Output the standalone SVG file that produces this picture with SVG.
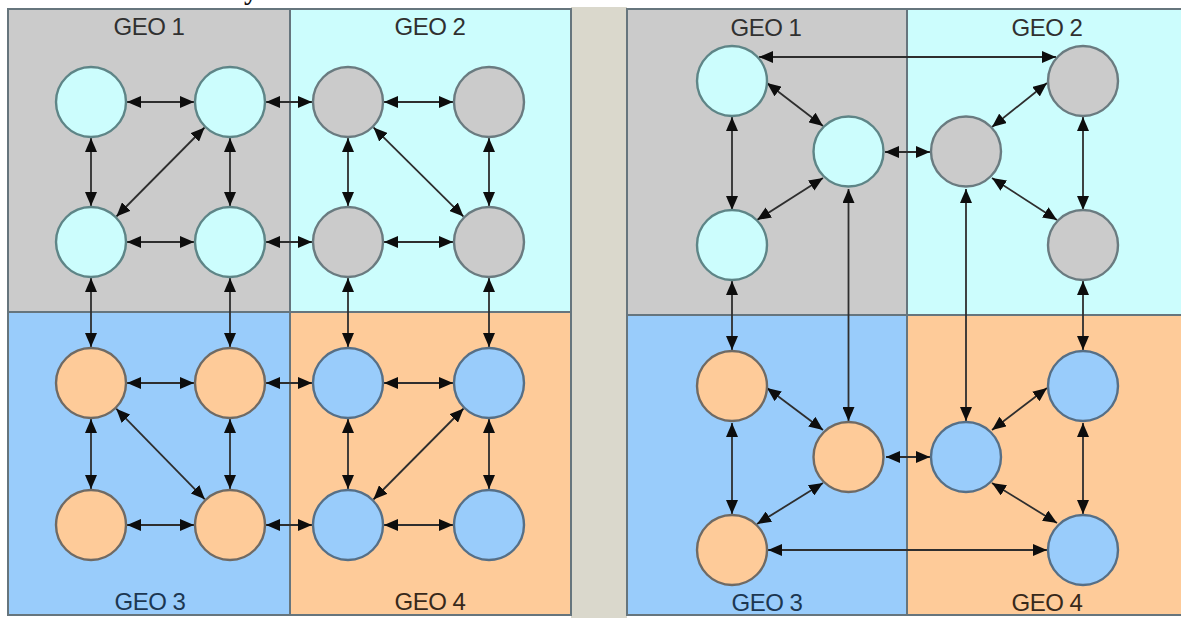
<svg xmlns="http://www.w3.org/2000/svg" width="1181" height="618" viewBox="0 0 1181 618">
<style>
.pan{stroke:#66757d;stroke-width:2}
.g{fill:#cbcbcb}.c{fill:#ccfdfd}.b{fill:#99ccfb}.o{fill:#fecb99}
.n{stroke-width:2.4}
.nc{fill:#ccfdfd;stroke:#5e8587}
.ng{fill:#cbcbcb;stroke:#6a7b80}
.no{fill:#fecb99;stroke:#6f6a64}
.nb{fill:#99ccfb;stroke:#566f86}
.lbl{font-family:"Liberation Sans",Arial,sans-serif;font-size:24px;text-anchor:middle;letter-spacing:-0.5px}
.t1{fill:#303030}.t3{fill:#1c3752}.t4{fill:#38291b}
#edges line{stroke:#2e2e2e;stroke-width:1.8;marker-start:url(#ah);marker-end:url(#ah)}
</style>
<defs>
<marker id="ah" markerUnits="userSpaceOnUse" markerWidth="14" markerHeight="12" refX="14" refY="6" orient="auto-start-reverse">
<path d="M0,0 L14,6 L0,12 z" fill="#0d0d0d"/>
</marker>
</defs>
<rect x="0" y="0" width="1181" height="618" fill="#ffffff"/>
<rect x="571" y="7" width="56" height="611" fill="#dad8cc"/>
<text x="244" y="-1" font-family="Liberation Serif,serif" font-size="28" font-weight="bold" fill="#111">y</text>

<g id="left-panel">
<rect class="pan g" x="8" y="9" width="282" height="303"/>
<rect class="pan c" x="290" y="9" width="281" height="303"/>
<rect class="pan b" x="8" y="312" width="282" height="303"/>
<rect class="pan o" x="290" y="312" width="281" height="303"/>
<text class="lbl t1" x="149" y="35">GEO 1</text>
<text class="lbl t1" x="430" y="35">GEO 2</text>
<text class="lbl t3" x="150" y="610">GEO 3</text>
<text class="lbl t4" x="430" y="610">GEO 4</text>
</g>
<g id="right-panel">
<rect class="pan g" x="627" y="9" width="280" height="306"/>
<rect class="pan c" x="907" y="9" width="280" height="306"/>
<rect class="pan b" x="627" y="315" width="280" height="300"/>
<rect class="pan o" x="907" y="315" width="280" height="300"/>
<text class="lbl t1" x="766" y="36">GEO 1</text>
<text class="lbl t1" x="1047" y="36">GEO 2</text>
<text class="lbl t3" x="767" y="611">GEO 3</text>
<text class="lbl t4" x="1047" y="611">GEO 4</text>
</g>

<g id="edges">
<line x1="127" y1="102" x2="194" y2="102"/>
<line x1="266" y1="102" x2="312" y2="102"/>
<line x1="384" y1="102" x2="453" y2="102"/>
<line x1="127" y1="242" x2="194" y2="242"/>
<line x1="266" y1="242" x2="312" y2="242"/>
<line x1="384" y1="242" x2="453" y2="242"/>
<line x1="127" y1="383" x2="194" y2="383"/>
<line x1="266" y1="383" x2="312" y2="383"/>
<line x1="384" y1="383" x2="453" y2="383"/>
<line x1="127" y1="525" x2="194" y2="525"/>
<line x1="266" y1="525" x2="312" y2="525"/>
<line x1="384" y1="525" x2="453" y2="525"/>
<line x1="91" y1="138" x2="91" y2="206"/>
<line x1="91" y1="278" x2="91" y2="347"/>
<line x1="91" y1="419" x2="91" y2="489"/>
<line x1="230" y1="138" x2="230" y2="206"/>
<line x1="230" y1="278" x2="230" y2="347"/>
<line x1="230" y1="419" x2="230" y2="489"/>
<line x1="348" y1="138" x2="348" y2="206"/>
<line x1="348" y1="278" x2="348" y2="347"/>
<line x1="348" y1="419" x2="348" y2="489"/>
<line x1="489" y1="138" x2="489" y2="206"/>
<line x1="489" y1="278" x2="489" y2="347"/>
<line x1="489" y1="419" x2="489" y2="489"/>
<line x1="204.6" y1="127.5" x2="116.4" y2="216.5"/>
<line x1="373.5" y1="127.4" x2="463.5" y2="216.6"/>
<line x1="116.2" y1="408.7" x2="204.8" y2="499.3"/>
<line x1="463.6" y1="408.5" x2="373.4" y2="499.5"/>

<line x1="759" y1="57" x2="1056" y2="57"/>
<line x1="767" y1="83" x2="823" y2="126"/>
<line x1="732" y1="117" x2="732" y2="210"/>
<line x1="823" y1="178" x2="757" y2="220"/>
<line x1="885" y1="152" x2="930" y2="152"/>
<line x1="848.5" y1="189" x2="848.5" y2="421"/>
<line x1="1047" y1="83" x2="992" y2="127"/>
<line x1="1083" y1="117" x2="1083" y2="210"/>
<line x1="992" y1="178" x2="1057" y2="220"/>
<line x1="966" y1="189" x2="966" y2="421"/>
<line x1="732" y1="281" x2="732" y2="350"/>
<line x1="1083" y1="281" x2="1083" y2="350"/>
<line x1="767" y1="388" x2="823" y2="430"/>
<line x1="732" y1="423" x2="732" y2="514"/>
<line x1="823" y1="483" x2="757" y2="524"/>
<line x1="886" y1="457" x2="930" y2="457"/>
<line x1="768" y1="550" x2="1047" y2="550"/>
<line x1="1047" y1="388" x2="992" y2="430"/>
<line x1="1083" y1="423" x2="1083" y2="514"/>
<line x1="992" y1="483" x2="1057" y2="523"/>
</g>

<g id="L-geo1-n1"><circle class="n nc" cx="91" cy="102" r="35"/></g>
<g id="L-geo1-n2"><circle class="n nc" cx="230" cy="102" r="35"/></g>
<g id="L-geo1-n3"><circle class="n nc" cx="91" cy="242" r="35"/></g>
<g id="L-geo1-n4"><circle class="n nc" cx="230" cy="242" r="35"/></g>
<g id="L-geo2-n1"><circle class="n ng" cx="348" cy="102" r="35"/></g>
<g id="L-geo2-n2"><circle class="n ng" cx="489" cy="102" r="35"/></g>
<g id="L-geo2-n3"><circle class="n ng" cx="348" cy="242" r="35"/></g>
<g id="L-geo2-n4"><circle class="n ng" cx="489" cy="242" r="35"/></g>
<g id="L-geo3-n1"><circle class="n no" cx="91" cy="383" r="35"/></g>
<g id="L-geo3-n2"><circle class="n no" cx="230" cy="383" r="35"/></g>
<g id="L-geo3-n3"><circle class="n no" cx="91" cy="525" r="35"/></g>
<g id="L-geo3-n4"><circle class="n no" cx="230" cy="525" r="35"/></g>
<g id="L-geo4-n1"><circle class="n nb" cx="348" cy="383" r="35"/></g>
<g id="L-geo4-n2"><circle class="n nb" cx="489" cy="383" r="35"/></g>
<g id="L-geo4-n3"><circle class="n nb" cx="348" cy="525" r="35"/></g>
<g id="L-geo4-n4"><circle class="n nb" cx="489" cy="525" r="35"/></g>

<g id="R-geo1-a"><circle class="n nc" cx="732" cy="81" r="35"/></g>
<g id="R-geo1-b"><circle class="n nc" cx="848.5" cy="151.5" r="35"/></g>
<g id="R-geo1-c"><circle class="n nc" cx="732" cy="245" r="35"/></g>
<g id="R-geo2-d"><circle class="n ng" cx="1083" cy="81" r="35"/></g>
<g id="R-geo2-e"><circle class="n ng" cx="966" cy="151.5" r="35"/></g>
<g id="R-geo2-f"><circle class="n ng" cx="1083" cy="245" r="35"/></g>
<g id="R-geo3-g"><circle class="n no" cx="732" cy="386" r="35"/></g>
<g id="R-geo3-h"><circle class="n no" cx="848.5" cy="457" r="35"/></g>
<g id="R-geo3-i"><circle class="n no" cx="732" cy="550" r="35"/></g>
<g id="R-geo4-j"><circle class="n nb" cx="1083" cy="386" r="35"/></g>
<g id="R-geo4-k"><circle class="n nb" cx="966" cy="457" r="35"/></g>
<g id="R-geo4-l"><circle class="n nb" cx="1083" cy="550" r="35"/></g>
</svg>
